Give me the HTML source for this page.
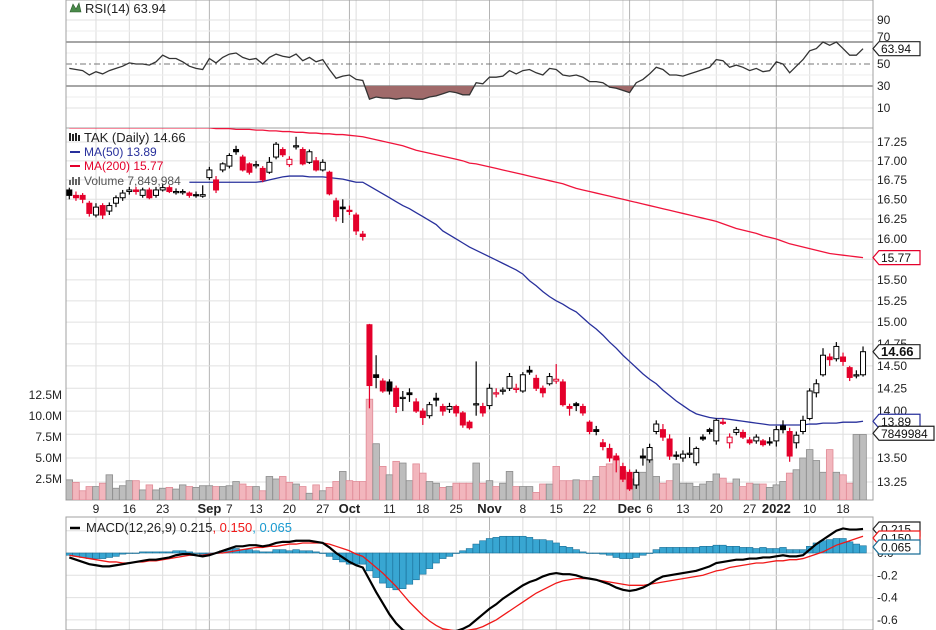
<!DOCTYPE html>
<html><head><meta charset="utf-8"><style>
html,body{margin:0;padding:0;background:#fff;}
svg{display:block;font-family:"Liberation Sans",sans-serif;}
</style></head><body>
<svg id="c" width="936" height="630" viewBox="0 0 936 630" xmlns="http://www.w3.org/2000/svg"></svg>
<script>
const opens=[16.62,16.55,16.55,16.45,16.3,16.42,16.35,16.45,16.52,16.6,16.62,16.55,16.62,16.55,16.62,16.65,16.6,16.6,16.58,16.56,16.54,16.78,16.75,16.88,16.93,17.15,17.05,16.96,16.95,16.9,16.85,17.05,17.15,16.95,17.2,17.15,16.98,17.0,16.88,16.85,16.48,16.4,16.36,16.3,16.06,14.97,14.4,14.33,14.32,14.25,14.15,14.2,14.1,14.0,13.95,14.14,14.05,14.02,14.05,13.98,13.88,14.08,14.05,14.06,14.2,14.22,14.25,14.25,14.22,14.45,14.36,14.25,14.3,14.33,14.32,14.05,14.08,14.05,13.88,13.8,13.66,13.6,13.52,13.41,13.35,13.22,13.52,13.48,13.78,13.8,13.7,13.53,13.5,13.55,13.45,13.72,13.8,13.68,13.88,13.66,13.77,13.77,13.69,13.68,13.68,13.67,13.68,13.84,13.78,13.66,13.78,13.92,14.2,14.4,14.6,14.58,14.6,14.48,14.4,14.4];
const highs=[16.65,16.6,16.58,16.48,16.45,16.45,16.46,16.55,16.62,16.66,16.66,16.65,16.65,16.66,16.7,16.68,16.64,16.63,16.6,16.6,16.68,16.92,16.8,16.98,17.1,17.2,17.08,16.98,17.0,16.93,17.05,17.25,17.18,17.06,17.32,17.18,17.15,17.05,17.02,16.87,16.52,16.5,16.42,16.33,16.1,14.98,14.62,14.36,14.35,14.28,14.22,14.25,14.14,14.03,14.1,14.2,14.08,14.09,14.07,14.0,13.9,14.55,14.09,14.3,14.25,14.26,14.42,14.3,14.43,14.5,14.4,14.28,14.42,14.52,14.35,14.08,14.1,14.08,13.9,13.84,13.7,13.65,13.55,13.45,13.38,13.38,13.6,13.65,13.9,13.86,13.75,13.57,13.58,13.72,13.62,13.75,13.82,13.92,13.92,13.76,13.83,13.8,13.72,13.75,13.7,13.72,13.84,13.9,13.82,13.78,13.95,14.25,14.35,14.7,14.64,14.77,14.65,14.5,14.45,14.72];
const lows=[16.5,16.48,16.45,16.28,16.27,16.25,16.3,16.4,16.48,16.56,16.56,16.52,16.5,16.52,16.6,16.58,16.56,16.56,16.52,16.52,16.52,16.75,16.58,16.85,16.9,17.08,16.86,16.82,16.9,16.72,16.83,17.02,17.05,16.92,17.15,16.94,16.96,16.86,16.86,16.55,16.22,16.2,16.3,16.05,15.98,14.03,14.25,14.2,14.18,13.98,14.0,14.1,13.98,13.85,13.92,14.05,13.95,13.98,13.94,13.82,13.8,13.95,13.94,14.02,14.15,14.18,14.22,14.2,14.2,14.4,14.22,14.15,14.28,14.3,14.05,13.95,14.0,13.95,13.75,13.74,13.58,13.46,13.35,13.25,13.16,13.18,13.42,13.45,13.75,13.68,13.48,13.48,13.46,13.5,13.42,13.68,13.75,13.64,13.85,13.6,13.74,13.7,13.64,13.65,13.62,13.63,13.62,13.76,13.46,13.6,13.75,13.9,14.15,14.38,14.5,14.55,14.5,14.33,14.36,14.38];
const closes=[16.55,16.52,16.5,16.32,16.4,16.3,16.42,16.52,16.58,16.62,16.6,16.62,16.52,16.62,16.65,16.6,16.6,16.6,16.55,16.55,16.56,16.88,16.62,16.96,17.07,17.12,16.88,16.85,16.95,16.75,16.98,17.22,17.08,17.02,17.2,16.96,17.12,16.88,16.98,16.57,16.28,16.38,16.35,16.1,16.03,14.28,14.37,14.22,14.22,14.05,14.15,14.18,14.0,13.93,14.07,14.12,14.0,14.05,13.98,13.85,13.82,14.08,13.98,14.25,14.2,14.23,14.38,14.25,14.4,14.43,14.25,14.2,14.38,14.35,14.07,14.03,14.06,13.98,13.78,13.78,13.62,13.5,13.48,13.28,13.18,13.35,13.5,13.61,13.86,13.72,13.52,13.52,13.54,13.55,13.6,13.7,13.78,13.9,13.87,13.72,13.8,13.72,13.66,13.72,13.64,13.66,13.8,13.8,13.52,13.74,13.9,14.22,14.3,14.62,14.57,14.72,14.55,14.37,14.4,14.66];
const volumesM=[2.4,2.1,1.1,1.6,1.6,2.0,3.0,1.4,1.7,2.3,2.3,1.2,1.8,1.2,1.4,1.5,1.3,1.8,1.6,1.5,1.7,1.7,1.6,1.6,1.7,2.2,1.9,1.6,1.6,1.1,2.8,2.5,2.8,2.1,1.9,1.6,0.8,1.8,1.1,1.5,2.2,3.4,2.3,2.2,2.2,12.0,6.7,4.0,3.0,4.6,4.4,2.3,4.3,3.2,2.2,2.0,1.5,1.6,2.0,2.0,2.0,4.4,2.0,2.3,1.6,2.0,3.4,1.6,1.6,1.6,0.9,1.9,1.9,4.0,2.3,2.3,2.4,2.3,2.3,2.8,4.0,4.3,5.0,3.5,2.5,2.5,3.3,4.8,2.8,2.0,2.3,4.3,2.0,2.0,1.6,1.9,2.2,3.1,2.6,2.0,2.5,1.6,2.0,1.9,1.9,1.5,1.8,2.2,3.2,3.6,5.0,6.0,4.7,3.3,6.0,3.3,3.0,2.0,7.8,7.8];
const ma50=[null,null,null,null,null,null,null,null,null,null,null,null,null,null,null,null,null,null,16.72,16.72,16.72,16.72,16.72,16.72,16.72,16.72,16.72,16.72,16.72,16.73,16.75,16.77,16.79,16.80,16.80,16.80,16.79,16.79,16.79,16.78,16.77,16.76,16.74,16.72,16.72,16.67,16.62,16.57,16.52,16.47,16.42,16.38,16.33,16.28,16.23,16.18,16.10,16.05,16.0,15.95,15.9,15.86,15.82,15.78,15.74,15.70,15.66,15.62,15.57,15.49,15.43,15.36,15.30,15.25,15.21,15.16,15.12,15.05,14.98,14.92,14.85,14.77,14.70,14.62,14.55,14.48,14.41,14.35,14.30,14.23,14.17,14.11,14.06,14.01,13.97,13.95,13.93,13.92,13.92,13.91,13.90,13.89,13.88,13.87,13.86,13.85,13.85,13.85,13.85,13.85,13.85,13.86,13.86,13.87,13.87,13.87,13.88,13.88,13.88,13.89];
const ma200=[17.44,17.44,17.44,17.44,17.44,17.44,17.44,17.44,17.44,17.44,17.44,17.44,17.44,17.44,17.44,17.44,17.44,17.44,17.44,17.44,17.44,17.44,17.43,17.43,17.43,17.42,17.42,17.42,17.41,17.41,17.40,17.40,17.39,17.39,17.38,17.38,17.37,17.37,17.36,17.36,17.35,17.35,17.34,17.33,17.32,17.30,17.28,17.26,17.24,17.22,17.20,17.17,17.14,17.12,17.10,17.08,17.06,17.04,17.02,17.00,16.97,16.96,16.94,16.92,16.90,16.88,16.86,16.84,16.82,16.80,16.78,16.76,16.74,16.72,16.70,16.67,16.64,16.62,16.60,16.58,16.56,16.54,16.52,16.50,16.48,16.46,16.44,16.42,16.40,16.38,16.36,16.34,16.32,16.30,16.28,16.26,16.24,16.22,16.19,16.16,16.13,16.11,16.09,16.07,16.04,16.02,16.00,15.97,15.94,15.92,15.90,15.88,15.86,15.84,15.82,15.81,15.80,15.79,15.78,15.77];
const rsi=[46,45,44,40,43,41,44,46,48,51,50,50,49,52,58,55,55,52,48,46,45,55,51,56,59,60,56,54,55,50,56,59,57,56,59,53,56,52,54,45,37,39,40,36,35,18,20,19,19,18,19,19,18,18,20,21,23,25,24,22,22,33,32,38,38,39,44,41,44,45,42,40,46,45,40,39,40,38,34,34,33,29,28,26,24,33,36,41,47,45,40,40,39,41,43,45,47,54,53,47,49,47,44,46,43,44,52,50,42,48,54,62,64,70,67,70,64,58,58,63.94];
const macd=[-0.04,-0.06,-0.08,-0.10,-0.11,-0.12,-0.12,-0.11,-0.10,-0.09,-0.08,-0.07,-0.06,-0.06,-0.05,-0.04,-0.02,-0.01,-0.01,-0.02,-0.03,-0.02,0.0,0.02,0.04,0.06,0.06,0.07,0.07,0.06,0.07,0.09,0.10,0.10,0.11,0.11,0.11,0.10,0.09,0.05,0.0,-0.04,-0.08,-0.11,-0.13,-0.24,-0.35,-0.45,-0.55,-0.63,-0.69,-0.72,-0.74,-0.75,-0.75,-0.74,-0.73,-0.72,-0.70,-0.68,-0.65,-0.60,-0.55,-0.50,-0.46,-0.41,-0.37,-0.33,-0.29,-0.26,-0.24,-0.21,-0.19,-0.18,-0.19,-0.19,-0.20,-0.22,-0.23,-0.24,-0.26,-0.28,-0.31,-0.33,-0.34,-0.33,-0.31,-0.28,-0.24,-0.21,-0.20,-0.19,-0.18,-0.17,-0.16,-0.14,-0.12,-0.09,-0.08,-0.07,-0.06,-0.06,-0.05,-0.05,-0.04,-0.04,-0.03,-0.02,-0.03,-0.03,-0.02,0.03,0.08,0.12,0.16,0.20,0.22,0.21,0.21,0.215];
const signal=[-0.02,-0.03,-0.04,-0.05,-0.06,-0.07,-0.08,-0.08,-0.09,-0.09,-0.08,-0.08,-0.07,-0.07,-0.06,-0.05,-0.04,-0.03,-0.02,-0.02,-0.02,-0.01,0.0,0.0,0.01,0.02,0.03,0.04,0.05,0.05,0.06,0.06,0.07,0.08,0.08,0.09,0.09,0.09,0.09,0.08,0.06,0.04,0.02,-0.01,-0.03,-0.08,-0.13,-0.18,-0.24,-0.30,-0.37,-0.44,-0.50,-0.56,-0.61,-0.65,-0.68,-0.69,-0.70,-0.70,-0.69,-0.68,-0.66,-0.63,-0.60,-0.56,-0.52,-0.48,-0.44,-0.40,-0.36,-0.33,-0.30,-0.27,-0.25,-0.24,-0.23,-0.23,-0.23,-0.24,-0.25,-0.26,-0.27,-0.28,-0.29,-0.29,-0.29,-0.28,-0.27,-0.26,-0.25,-0.24,-0.23,-0.22,-0.21,-0.20,-0.18,-0.16,-0.15,-0.13,-0.12,-0.11,-0.10,-0.09,-0.09,-0.08,-0.07,-0.07,-0.06,-0.06,-0.05,-0.03,-0.01,0.01,0.04,0.07,0.09,0.11,0.13,0.15];
const dateLabels=["9","16","23","Sep","7","13","20","27","Oct","11","18","25","Nov","8","15","22","Dec","6","13","20","27","2022","10","18"];
const dateLabelIdx=[4,9,14,21,24,28,33,38,42,48,53,58,63,68,73,78,84,87,92,97,102,106,111,116];
const weekLineIdx=[4,9,14,19,24,28,33,38,43,48,53,58,63,68,73,78,83,87,92,97,102,106,111,116];
const monthLineIdx=[21,42,63,84,106];
const priceTicks=[17.25,17.0,16.75,16.5,16.25,16.0,15.75,15.5,15.25,15.0,14.75,14.5,14.25,14.0,13.75,13.5,13.25];
const priceTickLabels=["17.25","17.00","16.75","16.50","16.25","16.00","","15.50","15.25","15.00","14.75","14.50","14.25","14.00","","13.50","13.25"];
const volTicks=[12.5,10.0,7.5,5.0,2.5];
const rsiTicks=[90,70,50,30,10];
const macdTicks=[0.0,-0.2,-0.4,-0.6];

const NS="http://www.w3.org/2000/svg";
const svg=document.getElementById('c');
const L=66,R=873;
function xi(i){return 69.3+6.67*i;}
function yP(p){return 142+1289*Math.log(17.25/p);}
function yV(v){return 500-v*8.4;}
function yR(v){return 64-(v-50)*1.1;}
function yM(v){return 553-v*111.5;}
function el(tag,attrs,parent){const e=document.createElementNS(NS,tag);for(const k in attrs)e.setAttribute(k,attrs[k]);(parent||svg).appendChild(e);return e;}

// clip paths
const defs=el('defs',{});
const cp1=el('clipPath',{id:'cpPrice'},defs);el('rect',{x:L,y:128,width:R-L,height:372},cp1);
const cp2=el('clipPath',{id:'cpRsi'},defs);el('rect',{x:L,y:0,width:R-L,height:128},cp2);
const cp3=el('clipPath',{id:'cpMacd'},defs);el('rect',{x:L,y:517,width:R-L,height:113},cp3);
const cpLow=el('clipPath',{id:'cpLow'},defs);el('rect',{x:L,y:yR(30),width:R-L,height:60},cpLow);

// panel backgrounds
const g0=el('g',{});


// vertical lines
for(const i of weekLineIdx){
  for(const [a,b] of [[0,128],[128,500],[517,630]]) el('line',{x1:xi(i),x2:xi(i),y1:a,y2:b,stroke:'#dcdcdc','stroke-width':1},g0);
}
for(const i of monthLineIdx){
  for(const [a,b] of [[0,128],[128,500],[517,630]]) el('line',{x1:xi(i),x2:xi(i),y1:a,y2:b,stroke:'#b4b4b4','stroke-width':1},g0);
}
// RSI horizontal
for(const t of rsiTicks){
  const y=yR(t);
  if(t===50) el('line',{x1:L,x2:R,y1:y,y2:y,stroke:'#777','stroke-dasharray':'6,3,2,3'},g0);
  else if(t===30||t===70) el('line',{x1:L,x2:R,y1:y,y2:y,stroke:'#707070','stroke-width':1.2},g0);
  else el('line',{x1:L,x2:R,y1:y,y2:y,stroke:'#e0e0e0'},g0);
}
for(const t of [20,40,60,80]) el('line',{x1:L,x2:R,y1:yR(t),y2:yR(t),stroke:'#eeeeee'},g0);
for(const t of priceTicks) el('line',{x1:L,x2:R,y1:yP(t),y2:yP(t),stroke:'#e0e0e0'},g0);
for(const t of [0.2,0.0,-0.2,-0.4,-0.6]) el('line',{x1:L,x2:R,y1:yM(t),y2:yM(t),stroke:'#e0e0e0'},g0);
// frames
el('rect',{x:L,y:0,width:R-L,height:128,fill:'none',stroke:'#a0a0a0'},g0);
el('rect',{x:L,y:128,width:R-L,height:372,fill:'none',stroke:'#a0a0a0'},g0);
el('rect',{x:L,y:517,width:R-L,height:113,fill:'none',stroke:'#a0a0a0'},g0);

// RSI
const gr=el('g',{'clip-path':'url(#cpRsi)'});


let pts=rsi.map((v,i)=>xi(i)+','+yR(v)).join(' ');
const fillLow=el('polygon',{points:xi(0)+','+yR(30)+' '+pts+' '+xi(rsi.length-1)+','+yR(30),fill:'#a06a6a','clip-path':'url(#cpLow)'},gr);


const rl=el('polyline',{points:pts,fill:'none',stroke:'#333','stroke-width':1.3},gr);



// Volume
const gv=el('g',{'clip-path':'url(#cpPrice)'});


volumesM.forEach((v,i)=>{
  const down=i>0&&closes[i]<closes[i-1];
  const b=el('rect',{x:xi(i)-3.3,y:yV(v),width:6.6,height:500-yV(v),fill:down?'#f2b6bd':'#bdbdbd',stroke:down?'#e08a96':'#8c8c8c','stroke-width':0.8},gv);
  
  
});

// MAs
const gm=el('g',{'clip-path':'url(#cpPrice)'});
const m200=el('polyline',{points:ma200.map((v,i)=>xi(i)+','+yP(v)).join(' '),fill:'none',stroke:'#f0143c','stroke-width':1.3},gm);


const m50=el('polyline',{points:ma50.map((v,i)=>v==null?null:xi(i)+','+yP(v)).filter(s=>s).join(' '),fill:'none',stroke:'#28309c','stroke-width':1.3},gm);



// Candles
const gc=el('g',{'clip-path':'url(#cpPrice)'});


closes.forEach((c,i)=>{
  const o=opens[i];
  const down=i>0&&c<closes[i-1];
  const col=down?'#e4002b':'#000';
  const x=xi(i);
  const w=el('line',{x1:x,x2:x,y1:yP(highs[i]),y2:yP(lows[i]),stroke:col,'stroke-width':1.2},gc);
  
  
  const top=yP(Math.max(o,c)),bot=yP(Math.min(o,c));
  const filled=c<o;
  const b=el('rect',{x:x-2.5,y:top,width:5,height:Math.max(1.2,bot-top),fill:filled?col:'#fff',stroke:col,'stroke-width':1},gc);
  
  
});

// MACD
const gd=el('g',{'clip-path':'url(#cpMacd)'});


macd.forEach((v,i)=>{
  const h=v-signal[i];
  const y0=yM(0),y1=yM(h);
  const b=el('rect',{x:xi(i)-3.3,y:Math.min(y0,y1),width:6.6,height:Math.max(0.5,Math.abs(y1-y0)),fill:'#38a6d2',stroke:'#1a6e96','stroke-width':0.6},gd);
  
  
});
const sl=el('polyline',{points:signal.map((v,i)=>xi(i)+','+yM(v)).join(' '),fill:'none',stroke:'#f01818','stroke-width':1.3},gd);


const ml=el('polyline',{points:macd.map((v,i)=>xi(i)+','+yM(v)).join(' '),fill:'none',stroke:'#000','stroke-width':2.2},gd);



// axis labels
function txt(s,x,y,attrs,name){const t=el('text',Object.assign({x:x,y:y,'font-size':12,fill:'#222'},attrs||{}));t.textContent=s;return t;}
rsiTicks.forEach(t=>{ if(t!==70) txt(String(t),877,yR(t)+4,{},'rsi-tick-label'); });
txt('70',877,yR(70)-1,{},'rsi-tick-label');
priceTicks.forEach((t,k)=>{ if(priceTickLabels[k]) txt(priceTickLabels[k],877,yP(t)+4,{},'price-tick-label'); });
volTicks.forEach(t=>txt(t.toFixed(1)+'M',62,yV(t)+4,{'text-anchor':'end'},'volume-tick-label'));
macdTicks.forEach(t=>txt(t.toFixed(1),877,yM(t)+4,{},'macd-tick-label'));
dateLabels.forEach((s,k)=>{
  const bold=/[A-Za-z]|2022/.test(s);
  txt(s,xi(dateLabelIdx[k]),513,{'text-anchor':'middle','font-weight':bold?'bold':'normal','font-size':bold?13:12},'date-label');
});

// value tags
function tag(s,y,color,bold,name){
  const g=el('g',{});
  
  
  const w=s.length*7+6;
  el('polygon',{points:`${R},${y} ${R+6},${y-7} ${R+6+w},${y-7} ${R+6+w},${y+7} ${R+6},${y+7}`,fill:'#fff',stroke:color,'stroke-width':1.2},g);
  const t=el('text',{x:R+8,y:y+4.5,'font-size':bold?13:12,'font-weight':bold?'bold':'normal',fill:'#111'},g);t.textContent=s;
}
tag('63.94',yR(63.94),'#222',false,'rsi-value-tag');
tag('15.77',yP(15.77),'#e4002b',false,'ma200-value-tag');
tag('14.66',yP(14.66),'#222',true,'price-value-tag');
tag('13.89',yP(13.89),'#28309c',false,'ma50-value-tag');
tag('7849984',yP(13.89)+12,'#222',false,'volume-value-tag');
tag('0.215',yM(0.215),'#222',false,'macd-value-tag');
tag('0.150',yM(0.215)+9,'#f01818',false,'signal-value-tag');
tag('0.065',yM(0.215)+18,'#1a6e96',false,'histogram-value-tag');

// legends
const lg=el('g',{});


el('path',{d:'M70 12 L73 4 L76 9 L79 3 L81 12 Z',fill:'#4a8a4a',stroke:'#2a5a2a','stroke-width':0.6},lg);
txt('RSI(14) 63.94',85,13,{'font-size':13},'rsi-legend');
el('path',{d:'M70 133 v8 M73 134 v7 M76 133 v8 M79 135 v6',stroke:'#222','stroke-width':2},lg);
txt('TAK (Daily) 14.66',84,142,{'font-size':13},'price-legend');
el('line',{x1:70,x2:80,y1:152,y2:152,stroke:'#28309c','stroke-width':2},lg);
txt('MA(50) 13.89',84,156,{fill:'#28309c'},'ma50-legend');
el('line',{x1:70,x2:80,y1:166,y2:166,stroke:'#e4002b','stroke-width':2},lg);
txt('MA(200) 15.77',84,170,{fill:'#e4002b'},'ma200-legend');
el('path',{d:'M70 185 v-5 M73 185 v-8 M76 185 v-6 M79 185 v-8',stroke:'#666','stroke-width':2},lg);
txt('Volume 7,849,984',84,185,{fill:'#555'},'volume-legend');
el('line',{x1:70,x2:80,y1:528,y2:528,stroke:'#000','stroke-width':2.5},lg);
const mt=el('text',{x:86,y:532,'font-size':13,fill:'#222'},lg);


mt.innerHTML='MACD(12,26,9) 0.215<tspan fill="#f01818">, 0.150</tspan><tspan fill="#1a9ad0">, 0.065</tspan>';
</script>
</body></html>
